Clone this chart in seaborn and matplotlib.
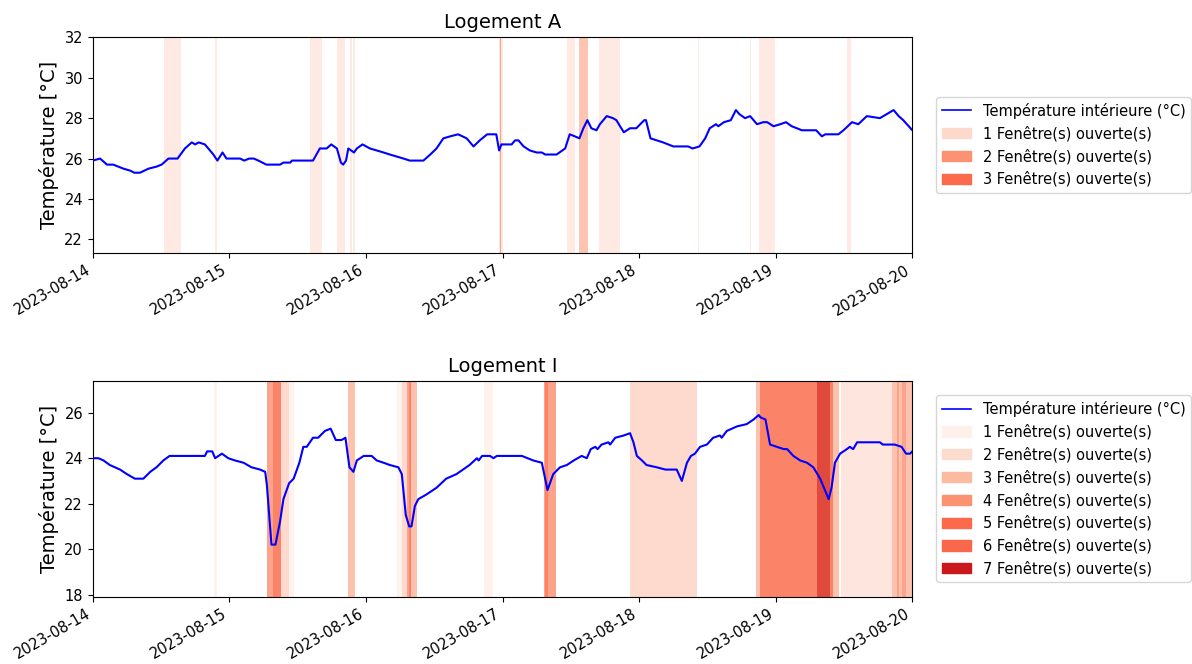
import pandas as pd
import matplotlib
matplotlib.use("Agg")
import matplotlib.pyplot as plt
import matplotlib.dates as mdates
from matplotlib.lines import Line2D
from matplotlib.patches import Patch
import seaborn as sns

START = pd.Timestamp("2023-08-14")
END = pd.Timestamp("2023-08-20")

# Logement A : heures depuis le début, température intérieure
hours_a = [0, 1.3, 2.5, 3.6, 5.4, 6.6, 7.3, 8.3, 9.8, 11.2,
           12.1, 13.3, 14.9, 16.2, 17.4, 18.0, 18.6, 19.7, 21.2, 21.9,
           22.8, 23.5, 25.9, 26.6, 27.5, 28.3, 29.1, 30.5, 32.9, 33.5,
           34.7, 35.0, 38.7, 39.9, 41.1, 41.9, 42.9, 43.6, 44.0, 44.5,
           44.9, 45.9, 46.4, 47.4, 48.7, 49.9, 51.1, 52.2, 53.4, 54.6,
           55.7, 58.1, 59.3, 60.4, 61.6, 62.8, 64.2, 65.7, 66.9, 68.0,
           69.3, 70.9, 71.4, 71.8, 73.6, 74.2, 74.8, 75.7, 76.8, 78.0,
           78.9, 79.5, 81.5, 83.0, 83.8, 84.7, 85.5, 86.2, 86.9, 87.6,
           88.5, 89.1, 90.3, 91.4, 92.0, 93.3, 94.4, 95.5, 96.9, 97.2,
           98.0, 99.1, 100.2, 102.0, 104.6, 105.4, 106.6, 107.6, 108.4, 109.5,
           109.9, 110.9, 112.1, 113.0, 113.6, 114.6, 115.5, 116.7, 117.8, 118.5,
           119.6, 120.8, 121.8, 122.8, 124.6, 127.1, 128.1, 128.7, 131.0, 131.9,
           133.4, 134.5, 136.0, 138.3, 140.7, 141.6, 142.4, 144.0]
temps_a = [25.9, 26.0, 25.7, 25.7, 25.5, 25.4, 25.3, 25.3, 25.5, 25.6,
           25.7, 26.0, 26.0, 26.5, 26.8, 26.7, 26.8, 26.7, 26.2, 25.9,
           26.3, 26.0, 26.0, 25.9, 26.0, 26.0, 25.9, 25.7, 25.7, 25.8,
           25.8, 25.9, 25.9, 26.5, 26.5, 26.7, 26.5, 25.8, 25.7, 25.9,
           26.5, 26.3, 26.5, 26.7, 26.5, 26.4, 26.3, 26.2, 26.1, 26.0,
           25.9, 25.9, 26.2, 26.5, 27.0, 27.1, 27.2, 27.0, 26.6, 26.9,
           27.2, 27.2, 26.4, 26.7, 26.7, 26.9, 26.9, 26.6, 26.4, 26.3,
           26.3, 26.2, 26.2, 26.5, 27.2, 27.1, 27.0, 27.5, 27.9, 27.5,
           27.4, 27.7, 28.1, 28.0, 27.9, 27.3, 27.5, 27.5, 27.9, 27.9,
           27.0, 26.9, 26.8, 26.6, 26.6, 26.5, 26.6, 27.0, 27.5, 27.7,
           27.6, 27.8, 27.9, 28.4, 28.2, 28.0, 28.1, 27.7, 27.8, 27.8,
           27.6, 27.7, 27.8, 27.6, 27.4, 27.4, 27.1, 27.2, 27.2, 27.4,
           27.8, 27.7, 28.1, 28.0, 28.4, 28.1, 27.9, 27.4]

# fenêtres ouvertes, logement A (début h, fin h, nombre)
win_start_a = [12.5, 21.5, 38.1, 42.9, 45.2, 45.8, 71.3, 71.6, 83.3, 85.5,
               89.0, 106.3, 115.4, 117.0, 132.6]
win_end_a = [15.5, 21.8, 40.2, 44.3, 45.5, 46.1, 72.0, 71.8, 84.7, 87.0,
             92.6, 106.5, 115.6, 119.9, 133.2]
win_count_a = [1, 1, 1, 1, 1, 1, 1, 3, 1, 2, 1, 1, 1, 1, 1]

# Logement I
hours_i = [0, 1.0, 1.9, 3.0, 4.8, 6.0, 7.4, 8.9, 10.1, 11.2,
           12.4, 13.5, 19.7, 20.1, 21.0, 21.5, 22.7, 23.8, 25.0, 26.5,
           27.9, 29.4, 30.3, 30.6, 31.4, 32.1, 32.9, 33.5, 34.5, 35.3,
           36.3, 37.0, 37.6, 38.7, 39.6, 40.8, 41.8, 42.7, 43.7, 44.4,
           45.1, 45.8, 46.4, 47.6, 49.0, 49.9, 51.1, 52.2, 53.7, 54.3,
           55.0, 55.6, 56.0, 56.6, 57.2, 58.6, 60.4, 62.1, 63.9, 66.2,
           67.5, 67.8, 68.4, 69.2, 69.8, 70.4, 71.0, 75.4, 76.4, 77.4,
           78.9, 79.9, 80.9, 82.1, 83.3, 84.5, 85.9, 86.8, 87.5, 88.3,
           88.7, 89.4, 90.6, 90.9, 91.8, 93.3, 94.4, 95.0, 95.6, 96.5,
           97.3, 99.1, 100.6, 102.6, 103.5, 104.4, 105.1, 105.8, 106.7, 107.9,
           109.0, 110.2, 110.5, 111.4, 113.2, 114.9, 115.5, 116.1, 117.0, 117.3,
           118.2, 119.0, 120.2, 121.4, 122.0, 123.1, 124.3, 125.5, 126.6, 127.8,
           129.3, 129.8, 130.4, 131.3, 132.5, 133.0, 133.6, 134.3, 138.3, 138.8,
           140.9, 142.1, 142.9, 143.6, 144.0]
temps_i = [24.0, 24.0, 23.9, 23.7, 23.5, 23.3, 23.1, 23.1, 23.4, 23.6,
           23.9, 24.1, 24.1, 24.3, 24.3, 24.0, 24.2, 24.0, 23.9, 23.8,
           23.6, 23.5, 23.4, 22.8, 20.2, 20.2, 21.2, 22.2, 22.9, 23.1,
           23.8, 24.5, 24.5, 24.9, 24.9, 25.2, 25.3, 24.8, 24.8, 24.9,
           23.6, 23.4, 23.9, 24.1, 24.1, 23.9, 23.8, 23.7, 23.6, 23.3,
           21.5, 21.0, 21.0, 21.9, 22.2, 22.4, 22.7, 23.1, 23.3, 23.7,
           24.0, 23.9, 24.1, 24.1, 24.1, 24.0, 24.1, 24.1, 24.0, 23.9,
           23.8, 22.6, 23.3, 23.6, 23.7, 23.9, 24.1, 24.0, 24.4, 24.5,
           24.4, 24.6, 24.7, 24.6, 24.9, 25.0, 25.1, 24.7, 24.1, 23.9,
           23.7, 23.6, 23.5, 23.5, 23.0, 23.8, 24.1, 24.2, 24.5, 24.6,
           24.9, 25.0, 24.9, 25.2, 25.4, 25.5, 25.6, 25.7, 25.9, 25.8,
           25.7, 24.6, 24.5, 24.4, 24.4, 24.1, 23.9, 23.8, 23.6, 23.1,
           22.2, 22.7, 23.8, 24.2, 24.4, 24.5, 24.4, 24.7, 24.7, 24.6,
           24.6, 24.5, 24.2, 24.2, 24.3]

win_start_i = [21.3, 30.7, 31.6, 33.0, 34.4, 44.9, 53.4, 54.3, 55.2, 55.5,
               56.0, 68.8, 79.2, 79.4, 94.4, 116.5, 117.3, 127.2, 129.5, 130.0,
               131.4, 140.4, 141.3, 141.7, 142.2, 142.8]
win_end_i = [21.8, 31.6, 33.0, 34.4, 35.4, 46.1, 54.3, 55.2, 56.0, 55.9,
             56.9, 70.4, 81.4, 80.0, 106.2, 117.3, 127.2, 129.5, 130.0, 131.1,
             140.4, 141.3, 141.7, 142.2, 142.8, 144.0]
win_count_i = [1, 5, 6, 3, 1, 4, 1, 3, 5, 6,
               4, 1, 5, 6, 3, 4, 6, 7, 6, 4,
               2, 4, 5, 4, 5, 4]

legend_colors_a = ["#fdd9cb", "#fc9272", "#fb6a4a"]
span_colors_a = ["#feeae2", "#fdc5b1", "#fb9f88"]
legend_colors_i = ["#fff0ea", "#fddcd0", "#fcbba1", "#fc9272",
                   "#fb6a4a", "#f9684a", "#cb181d"]
span_colors_i = ["#fff2ed", "#fee6de", "#fddacd", "#fdc2ad",
                 "#fca48b", "#fb8468", "#e04a3c"]

plt.rcParams["xtick.labelsize"] = 10.5
plt.rcParams["ytick.labelsize"] = 10.5
plt.rcParams["legend.fontsize"] = 10.5


def to_time(hours):
    return START + pd.to_timedelta(hours, unit="h")


def draw_panel(ax, title, hours, temps, w_start, w_end, w_count,
               span_colors, legend_colors, ylim):
    for s, e, n in zip(w_start, w_end, w_count):
        ax.axvspan(to_time(s), to_time(e), color=span_colors[n - 1],
                   lw=0, zorder=1 + n * 0.01)
    df = pd.DataFrame({"time": to_time(hours), "temp": temps})
    sns.lineplot(data=df, x="time", y="temp", ax=ax, color="blue",
                 lw=1.5, zorder=5)
    ax.set_xlim(START, END)
    ax.set_ylim(*ylim)
    ax.set_title(title, fontsize=14)
    ax.set_xlabel("")
    ax.set_ylabel("Température [°C]", fontsize=14)
    ax.xaxis.set_major_locator(mdates.DayLocator())
    ax.xaxis.set_major_formatter(mdates.DateFormatter("%Y-%m-%d"))
    plt.setp(ax.get_xticklabels(), rotation=30, ha="right")

    handles = [Line2D([], [], color="blue", lw=1.2,
                      label="Température intérieure (°C)")]
    for k, c in enumerate(legend_colors):
        handles.append(Patch(color=c, label=f"{k + 1} Fenêtre(s) ouverte(s)"))
    ax.legend(handles=handles, loc="center left", bbox_to_anchor=(1.02, 0.5))


fig = plt.figure(figsize=(11.92, 6.64), dpi=100)
ax1 = fig.add_axes([0.0778, 0.6194, 0.6876, 0.3253])
ax2 = fig.add_axes([0.0778, 0.1014, 0.6876, 0.3253])

draw_panel(ax1, "Logement A", hours_a, temps_a, win_start_a, win_end_a,
           win_count_a, span_colors_a, legend_colors_a, (21.34, 32.03))
draw_panel(ax2, "Logement I", hours_i, temps_i, win_start_i, win_end_i,
           win_count_i, span_colors_i, legend_colors_i, (17.91, 27.41))

fig.savefig("out.png", dpi=100)
